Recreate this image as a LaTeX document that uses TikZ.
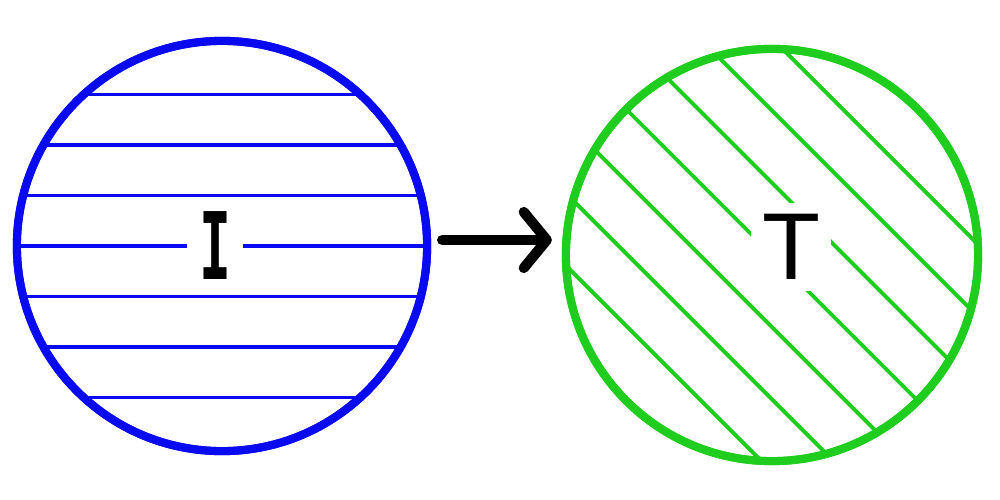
\documentclass[tikz,border=0pt]{standalone}
\usepackage{fontspec}
\setmainfont{Liberation Sans}
\newfontfamily\slabfont{DejaVu Sans Mono}
\usepackage{tikz}
\usetikzlibrary{calc,arrows.meta}

\definecolor{ringblue}{RGB}{10,10,240}
\definecolor{ringgreen}{RGB}{30,205,30}

\begin{document}
\begin{tikzpicture}[x=0.01cm,y=-0.01cm,
  ring/.style={circle,draw=#1,line width=2.3pt,inner sep=0pt,outer sep=0pt},
  hatch/.style={draw=#1,line width=1.1pt},
  lab/.style={fill=white,inner sep=1.1mm,font=\fontsize{27}{27}\selectfont},
  arr/.style={line width=2.9pt,line cap=round,-{Straight Barb[length=2.3mm,width=5.6mm,round]}}]
\useasboundingbox (0,0) rectangle (1000,500);
% circles
\node[ring=ringblue,minimum size=4.1cm] (I) at (222,246) {};
\node[ring=ringgreen,minimum size=4.12cm] (T) at (772,255) {};
% hatching
\begin{scope}
\clip (I.center) circle (205);
\foreach \k in {-3,...,3}
  \draw[hatch=ringblue] ($(I.center)+(-250,\k*50.5)$) -- ++(500,0);
\end{scope}
\begin{scope}
\clip (T.center) circle (206);
\foreach \k in {-3,...,3}
  \draw[hatch=ringgreen] ($(T.center)+(-\k*36.1-250,\k*36.1-250)$) -- ++(500,500);
\end{scope}
\node[ring=ringblue,minimum size=4.1cm] at (I.center) {};
\node[ring=ringgreen,minimum size=4.12cm] at (T.center) {};
% labels
\node[lab,inner xsep=1.2mm,font=\fontsize{26.5}{26.5}\slabfont\bfseries] (Ilab) at (215,246) {\scalebox{0.57}[1]{I}};
\node[lab] (Tlab) at (791,247) {T};
% arrow
\draw[arr] ($(I.east)+(15,-6)$) -- ($(T.west)+(-14,-15)$);
\end{tikzpicture}
\end{document}
